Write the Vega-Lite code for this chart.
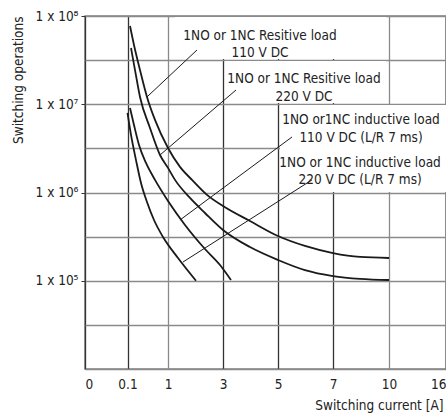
{
  "$schema": "https://vega.github.io/schema/vega-lite/v6.json",
  "width": 361,
  "height": 353,
  "autosize": {"type": "none"},
  "padding": {"left": 85, "top": 16, "right": 0, "bottom": 49},
  "background": "white",
  "config": {
    "font": "Liberation Sans Narrow, DejaVu Sans Condensed, Arial Narrow, Liberation Sans, sans-serif",
    "view": {"stroke": "#808080", "strokeWidth": 1.5},
    "axis": {
      "labelFont": "Liberation Sans Narrow, DejaVu Sans Condensed, Arial Narrow, Liberation Sans, sans-serif",
      "titleFont": "Liberation Sans Narrow, DejaVu Sans Condensed, Arial Narrow, Liberation Sans, sans-serif",
      "labelFontSize": 13.5,
      "titleFontSize": 13.5,
      "titleFontWeight": "normal",
      "labelColor": "#222",
      "titleColor": "#222",
      "domain": false
    }
  },
  "datasets": {
    "curves": [
      {"s": "r110", "x": 0.156, "y": 77000000},
      {"s": "r110", "x": 0.244, "y": 47000000},
      {"s": "r110", "x": 0.378, "y": 24400000},
      {"s": "r110", "x": 0.533, "y": 12100000},
      {"s": "r110", "x": 0.711, "y": 6640000},
      {"s": "r110", "x": 1.0, "y": 3190000},
      {"s": "r110", "x": 1.436, "y": 1950000},
      {"s": "r110", "x": 1.873, "y": 1390000},
      {"s": "r110", "x": 2.418, "y": 940000},
      {"s": "r110", "x": 3.0, "y": 703000},
      {"s": "r110", "x": 3.98, "y": 475000},
      {"s": "r110", "x": 5.0, "y": 321000},
      {"s": "r110", "x": 5.98, "y": 248000},
      {"s": "r110", "x": 7.0, "y": 206000},
      {"s": "r110", "x": 8.45, "y": 186000},
      {"s": "r110", "x": 10.0, "y": 181000},
      {"s": "r220", "x": 0.178, "y": 43400000},
      {"s": "r220", "x": 0.267, "y": 24400000},
      {"s": "r220", "x": 0.378, "y": 12100000},
      {"s": "r220", "x": 0.6, "y": 5380000},
      {"s": "r220", "x": 0.822, "y": 2660000},
      {"s": "r220", "x": 1.0, "y": 1900000},
      {"s": "r220", "x": 1.255, "y": 1390000},
      {"s": "r220", "x": 1.8, "y": 867000},
      {"s": "r220", "x": 2.345, "y": 586000},
      {"s": "r220", "x": 3.0, "y": 376000},
      {"s": "r220", "x": 3.98, "y": 241000},
      {"s": "r220", "x": 5.0, "y": 172000},
      {"s": "r220", "x": 5.98, "y": 132000},
      {"s": "r220", "x": 7.0, "y": 113000},
      {"s": "r220", "x": 8.45, "y": 105000},
      {"s": "r220", "x": 10.0, "y": 102000},
      {"s": "i110", "x": 0.156, "y": 9070000},
      {"s": "i110", "x": 0.244, "y": 5830000},
      {"s": "i110", "x": 0.356, "y": 3450000},
      {"s": "i110", "x": 0.511, "y": 2160000},
      {"s": "i110", "x": 0.711, "y": 1390000},
      {"s": "i110", "x": 1.0, "y": 802000},
      {"s": "i110", "x": 1.618, "y": 429000},
      {"s": "i110", "x": 2.345, "y": 229000},
      {"s": "i110", "x": 2.891, "y": 151000},
      {"s": "i110", "x": 3.291, "y": 102000},
      {"s": "i220", "x": 0.1, "y": 7970000},
      {"s": "i220", "x": 0.178, "y": 4490000},
      {"s": "i220", "x": 0.289, "y": 2330000},
      {"s": "i220", "x": 0.4, "y": 1280000},
      {"s": "i220", "x": 0.533, "y": 780000},
      {"s": "i220", "x": 0.689, "y": 488000},
      {"s": "i220", "x": 0.889, "y": 313000},
      {"s": "i220", "x": 1.364, "y": 181000},
      {"s": "i220", "x": 2.018, "y": 100000}
    ],
    "boxes": [
      {"x": 1.255, "x2": 9.84, "y": 97500000, "y2": 32600000},
      {"x": 3.073, "x2": 9.84, "y": 30900000, "y2": 10300000},
      {"x": 5.073, "x2": 16.5, "y": 9800000, "y2": 1015000}
    ],
    "leaders": [
      {"x": 2.055, "y": 41200000, "x2": 0.533, "y2": 12100000},
      {"x": 3.473, "y": 14500000, "x2": 0.822, "y2": 2660000},
      {"x": 5.51, "y": 4260000, "x2": 1.436, "y2": 488000},
      {"x": 6.236, "y": 1390000, "x2": 1.545, "y2": 163000}
    ],
    "labels": [
      {"x": 4.345, "y": 53500000, "text": "1NO or 1NC Resitive load\n110 V DC"},
      {"x": 5.945, "y": 17400000, "text": "1NO or 1NC Resitive load\n220 V DC"},
      {"x": 8.5, "y": 5970000, "text": "1NO or1NC inductive load\n110 V DC (L/R 7 ms)"},
      {"x": 8.45, "y": 1950000, "text": "1NO or 1NC inductive load\n220 V DC (L/R 7 ms)"}
    ]
  },
  "encoding": {
    "x": {
      "field": "x",
      "type": "quantitative",
      "scale": {
        "type": "linear",
        "domain": [0, 0.1, 1, 3, 5, 7, 10, 16],
        "range": [0, 42.5, 83, 138, 193, 248, 304, 361],
        "nice": false,
        "zero": false
      },
      "axis": {
        "title": "Switching current [A]",
        "titleAnchor": "end",
        "titleX": 358,
        "titleAlign": "right",
        "values": [0, 0.1, 1, 3, 5, 7, 10, 16],
        "labelExpr": "'' + datum.value",
        "labelFlush": true,
        "ticks": false,
        "tickSize": 0,
        "labelPadding": 8,
        "titlePadding": 8,
        "gridWidth": 1.3,
        "gridOpacity": 1,
        "gridColor": {"condition": {"test": "datum.value == 1 || datum.value == 10", "value": "#8a8a8a"}, "value": "#333333"}
      }
    },
    "y": {
      "field": "y",
      "type": "quantitative",
      "scale": {"type": "log", "domain": [10000, 100000000], "nice": false},
      "axis": {
        "title": "Switching operations",
        "titleAnchor": "end",
        "titlePadding": 10,
        "values": [10000, 31622.78, 100000, 316227.8, 1000000, 3162278, 10000000, 31622777, 100000000],
        "labelExpr": "datum.value > 50000 && abs(log(datum.value)/LN10 - round(log(datum.value)/LN10)) < 0.01 ? '1 x 10' + ['⁰','¹','²','³','⁴','⁵','⁶','⁷','⁸','⁹'][round(log(datum.value)/LN10)] : ''",
        "gridColor": "#8a8a8a",
        "gridWidth": 1.5,
        "gridOpacity": 1,
        "tickSize": 4,
        "tickColor": "#333",
        "tickOpacity": {"condition": {"test": "datum.value > 50000 && abs(log(datum.value)/LN10 - round(log(datum.value)/LN10)) < 0.01", "value": 1}, "value": 0},
        "labelPadding": 3
      }
    }
  },
  "layer": [
    {
      "data": {"name": "curves"},
      "mark": {"type": "line", "interpolate": "monotone", "stroke": "#1a1a1a", "strokeWidth": 1.8},
      "encoding": {"detail": {"field": "s", "type": "nominal"}}
    },
    {
      "data": {"name": "boxes"},
      "mark": {"type": "rect", "fill": "white", "stroke": null},
      "encoding": {"x2": {"field": "x2"}, "y2": {"field": "y2"}}
    },
    {
      "data": {"name": "leaders"},
      "mark": {"type": "rule", "stroke": "#1a1a1a", "strokeWidth": 1},
      "encoding": {"x2": {"field": "x2"}, "y2": {"field": "y2"}}
    },
    {
      "data": {"name": "labels"},
      "mark": {"type": "text", "align": "center", "baseline": "alphabetic", "lineBreak": "\n", "lineHeight": 17.5, "fontSize": 13.5, "fill": "#222"},
      "encoding": {"text": {"field": "text", "type": "nominal"}}
    }
  ]
}
